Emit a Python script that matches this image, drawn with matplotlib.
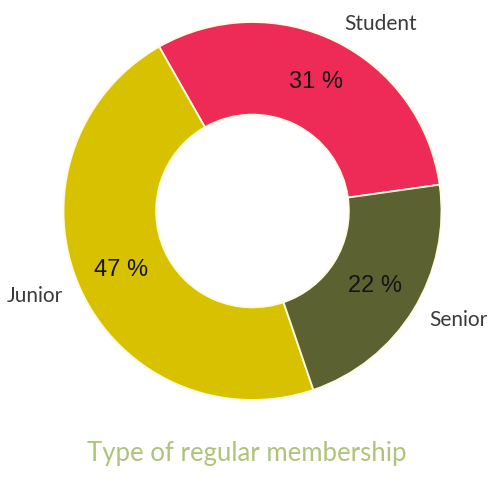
import matplotlib
matplotlib.use("Agg")
import matplotlib.pyplot as plt

# membership shares (percent)
labels = ["Student", "Junior", "Senior"]
shares = [31, 47, 22]
colors = ["#EE2B57", "#D8C200", "#5B6130"]
title = "Type of regular membership"

fig = plt.figure(figsize=(4.94, 4.79), dpi=100)
ax = fig.add_axes([0.1285, 0.165, 0.7652, 0.789])

wedges, texts, autotexts = ax.pie(
    shares, labels=labels, colors=colors, startangle=8, counterclock=True,
    autopct="%.0f %%", pctdistance=0.76, labeldistance=1.1,
    wedgeprops=dict(width=0.49, edgecolor="#FFFBE0", linewidth=1.3),
    textprops=dict(fontsize=15, color="#3a3a3a", family="Lato"),
)
for t in autotexts:
    t.set_fontsize(17)
    t.set_color("#151515")
    t.set_family("Liberation Sans")

ax.set_xlim(-1, 1)
ax.set_ylim(-1, 1)
ax.set_aspect("equal")

fig.text(0.5, 0.038, title, ha="center", va="baseline",
         fontsize=18.5, color="#AEC47A", family="Lato")

fig.savefig("out.png", dpi=100)
